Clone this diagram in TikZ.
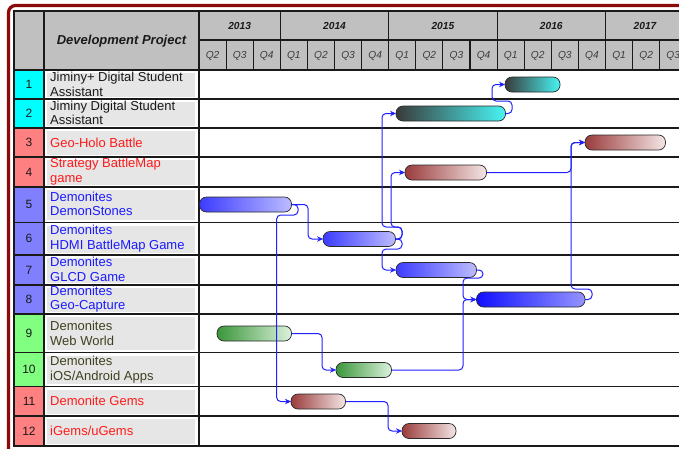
\documentclass[tikz,border=0pt]{standalone}
\usepackage{fontspec}
\setmainfont{Liberation Sans}
\usetikzlibrary{arrows.meta}
\definecolor{framered}{HTML}{8B0A0A}
\definecolor{hdr}{HTML}{C0C0C0}
\definecolor{namebg}{HTML}{E6E6E6}
\definecolor{numcyan}{HTML}{00FFFF}
\definecolor{numsalmon}{HTML}{FF8080}
\definecolor{numblue}{HTML}{8080FF}
\definecolor{numgreen}{HTML}{80FF80}
\definecolor{txtblack}{HTML}{1A1A1A}
\definecolor{txtred}{HTML}{FF1A1A}
\definecolor{txtblue}{HTML}{1A1AFF}
\definecolor{txtolive}{HTML}{404020}
\definecolor{connblue}{HTML}{2020FF}
\definecolor{bardraw}{HTML}{2A2A2A}
\definecolor{gridc}{HTML}{1A1A1A}
\definecolor{cyanL}{HTML}{3A3A3A}
\definecolor{cyanR}{HTML}{48F4F4}
\definecolor{redL}{HTML}{9A3C3C}
\definecolor{redR}{HTML}{F4E6E6}
\definecolor{blueL}{HTML}{3C3CFF}
\definecolor{blueR}{HTML}{BCBCFF}
\definecolor{dblueL}{HTML}{1010FF}
\definecolor{dblueR}{HTML}{9494FF}
\definecolor{greenL}{HTML}{3A963A}
\definecolor{greenR}{HTML}{DCF2DC}
\begin{document}
\begin{tikzpicture}[x=1pt,y=-1pt,
  gridline/.style={draw=gridc, line width=1.3pt},
  thingrid/.style={draw=gridc, line width=1.1pt},
  numtxt/.style={font=\fontsize{12}{14}\selectfont, text=txtblack, inner sep=0pt},
  nametxt/.style={font=\fontsize{13}{14.5}\selectfont, anchor=west, align=left, inner sep=0pt},
  yeartxt/.style={font=\fontsize{10.2}{12}\selectfont\bfseries\itshape, text=txtblack, inner sep=0pt},
  qtxt/.style={font=\fontsize{10.2}{12}\selectfont\itshape, text=txtblack!85, inner sep=0pt},
  bar/.style={draw=bardraw, line width=0.7pt, rounded corners=7pt, minimum height=15pt, inner sep=0pt, outer sep=0pt},
  cyanbar/.style={left color=cyanL, right color=cyanR},
  redbar/.style={left color=redL, right color=redR},
  bluebar/.style={left color=blueL, right color=blueR},
  deepbluebar/.style={left color=dblueL, right color=dblueR},
  greenbar/.style={left color=greenL, right color=greenR},
  conn/.style={draw=connblue, line width=1pt, rounded corners=4pt, -{Stealth[length=6pt,width=5.5pt]}}
]
\useasboundingbox (0,0) rectangle (679,448);
\clip (0,0) rectangle (679,448);
\fill[white] (0,0) rectangle (679,448);
\draw[framered, line width=3.2pt, rounded corners=7pt] (8.5,5.5) rectangle (720,480);
% header
\fill[hdr] (14,11) rectangle (700,70);
% number column fills
\fill[numcyan] (14,70) rectangle (44,128);
\fill[numsalmon] (14,128) rectangle (44,187);
\fill[numblue] (14,187) rectangle (44,314);
\fill[numgreen] (14,314) rectangle (44,386.5);
\fill[numsalmon] (14,386.5) rectangle (44,446);
% name cell backgrounds
\foreach \t/\b in {70/99,99/128,128/157,157/187,187/222.5,222.5/255,255/285,285/314,314/352.5,352.5/386.5,386.5/416,416/446}
  \fill[namebg] (47,\t+3) rectangle (195,\b-2.5);
% grid
\foreach \y in {99,128,157,187,222.5,255,285,314,352.5,386.5,416}
  \draw[gridline] (14,\y) -- (700,\y);
\draw[gridline, line width=2pt] (14,70) -- (700,70);
\draw[gridline, line width=2pt] (14,11) -- (700,11);
\draw[gridline, line width=2pt] (14,446) -- (700,446);
\draw[gridline, line width=2pt] (14,10) -- (14,447);
\draw[gridline, line width=1.6pt] (44,11) -- (44,446);
\draw[gridline, line width=1.6pt] (199,11) -- (199,446);
\draw[thingrid] (199,40) -- (700,40);
\foreach \k in {1,...,18}
  \draw[thingrid] ({199+27.1*\k},40) -- ({199+27.1*\k},70);
\foreach \k in {3,7,11,15}
  \draw[thingrid] ({199+27.1*\k},11) -- ({199+27.1*\k},70);
% header texts
\node[font=\fontsize{13}{15}\selectfont\bfseries\itshape, text=txtblack, inner sep=0pt] (hdp) at (121.5,41) {Development Project};
\node[yeartxt] (y13) at (239.6,25.5) {2013};
\node[yeartxt] (y14) at (334.5,25.5) {2014};
\node[yeartxt] (y15) at (442.9,25.5) {2015};
\node[yeartxt] (y16) at (551.3,25.5) {2016};
\node[yeartxt] (y17) at (645,25.5) {2017};
\foreach \k in {0,...,17}{
  \pgfmathtruncatemacro\q{mod(\k+1,4)+1}
  \node[qtxt] (q\k) at ({199+27.1*\k+13.55},55.5) {Q\q};
}
% numbers
\node[numtxt] (n1) at (29,84.5) {1};
\node[numtxt] (n2) at (29,113.5) {2};
\node[numtxt] (n3) at (29,142.5) {3};
\node[numtxt] (n4) at (29,172) {4};
\node[numtxt] (n5) at (29,204.75) {5};
\node[numtxt] (n6) at (29,238.75) {6};
\node[numtxt] (n7) at (29,270) {7};
\node[numtxt] (n8) at (29,299.5) {8};
\node[numtxt] (n9) at (29,333.25) {9};
\node[numtxt] (n10) at (29,369.5) {10};
\node[numtxt] (n11) at (29,401.25) {11};
\node[numtxt] (n12) at (29,431) {12};
% project names
\node[nametxt, text=txtblack] (p1) at (50,84.5) {Jiminy+ Digital Student\\Assistant};
\node[nametxt, text=txtblack] (p2) at (50,113) {Jiminy Digital Student\\Assistant};
\node[nametxt, text=txtred] (p3) at (50,142.5) {Geo-Holo Battle};
\node[nametxt, text=txtred] (p4) at (50,171.5) {Strategy BattleMap\\game};
\node[nametxt, text=txtblue] (p5) at (50,204) {Demonites\\DemonStones};
\node[nametxt, text=txtblue] (p6) at (50,238.5) {Demonites\\HDMI BattleMap Game};
\node[nametxt, text=txtblue] (p7) at (50,269.5) {Demonites\\GLCD Game};
\node[nametxt, text=txtblue] (p8) at (50,299) {Demonites\\Geo-Capture};
\node[nametxt, text=txtolive] (p9) at (50,333.5) {Demonites\\Web World};
\node[nametxt, text=txtolive] (p10) at (50,369.5) {Demonites\\iOS/Android Apps};
\node[nametxt, text=txtred] (p11) at (50,401.25) {Demonite Gems};
\node[nametxt, text=txtred] (p12) at (50,431) {iGems/uGems};
% bars
\node[bar, cyanbar, minimum width=55pt] (b1) at (532.5,84.5) {};
\node[bar, cyanbar, minimum width=109.5pt] (b2) at (450.75,113.5) {};
\node[bar, redbar, minimum width=80.5pt] (b3) at (625.25,142.5) {};
\node[bar, redbar, minimum width=81.5pt] (b4) at (445.75,172.5) {};
\node[bar, bluebar, minimum width=92pt] (b5) at (245.5,204.5) {};
\node[bar, bluebar, minimum width=72.5pt] (b6) at (359.25,239) {};
\node[bar, bluebar, minimum width=80.5pt] (b7) at (436.25,270) {};
\node[bar, deepbluebar, minimum width=108.5pt] (b8) at (530.75,299.5) {};
\node[bar, greenbar, minimum width=74.5pt] (b9) at (254.25,333.5) {};
\node[bar, greenbar, minimum width=55.5pt] (b10) at (363.75,370) {};
\node[bar, redbar, minimum width=54.5pt] (b11) at (318.25,401.5) {};
\node[bar, redbar, minimum width=54pt] (b12) at (429,431) {};
% connectors
\draw[conn] (b2.east) -| (512,101) -| (492,84.5) -- (b1.west);
\draw[conn] (b5.east) -| (308,239) -- (b6.west);
\draw[conn] (b5.east) -| (298,215) -| (276.7,401.5) -- (b11.west);
\draw[conn] (b6.east) -| (402,227) -| (382,113.5) -- (b2.west);
\draw[conn] (b6.east) -| (402,227) -| (391,172.5) -- (b4.west);
\draw[conn] (b6.east) -| (402,249) -| (382,270) -- (b7.west);
\draw[conn] (b7.east) -| (483,278) -| (463,299.5) -- (b8.west);
\draw[conn] (b10.east) -| (463,299.5) -- (b8.west);
\draw[conn] (b8.east) -| (592,289) -| (571,142.5) -- (b3.west);
\draw[conn] (b4.east) -| (571,142.5) -- (b3.west);
\draw[conn] (b9.east) -| (322,370) -- (b10.west);
\draw[conn] (b11.east) -| (388,431) -- (b12.west);
\end{tikzpicture}
\end{document}
